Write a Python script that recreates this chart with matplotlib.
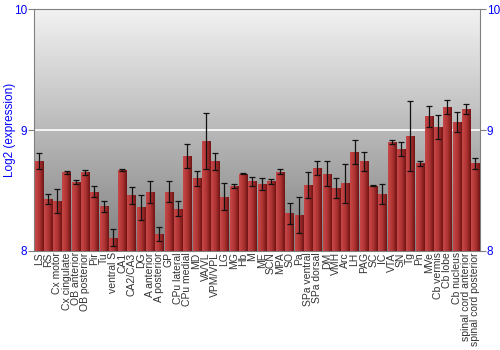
import numpy as np
import matplotlib.pyplot as plt
from matplotlib.colors import LinearSegmentedColormap

plt.rcParams['font.family'] = ['Liberation Sans', 'DejaVu Sans']

regions = ["LS", "RS", "Cx motor", "Cx cingulate", "OB anterior", "OB posterior",
           "Pir", "Tu", "ventral S", "CA1", "CA2/CA3", "DG", "A anterior",
           "A posterior", "GP", "CPu lateral", "CPu medial", "MD", "VA/VL",
           "VPM/VPL", "LG", "MG", "Hb", "M", "ME", "SCN", "MPA", "SO", "Pa",
           "SPa ventral", "SPa dorsal", "DM", "VMH", "Arc", "LH", "PAG", "SC",
           "IC", "VTA", "SN", "Tg", "Pn", "MVe", "Cb vermis", "Cb lobe",
           "Cb nucleus", "spinal cord anterior", "spinal cord posterior"]

expression = [8.74, 8.43, 8.41, 8.65, 8.57, 8.65, 8.49, 8.37, 8.11, 8.67,
              8.46, 8.36, 8.49, 8.14, 8.49, 8.35, 8.785, 8.60, 8.91, 8.74,
              8.45, 8.536, 8.64, 8.575, 8.555, 8.575, 8.657, 8.31, 8.30, 8.544,
              8.685, 8.64, 8.52, 8.56, 8.82, 8.74, 8.54, 8.47, 8.90, 8.84,
              8.95, 8.724, 9.113, 9.025, 9.19, 9.066, 9.174, 8.724]

errors = [0.066, 0.045, 0.10, 0.01, 0.02, 0.02, 0.045, 0.045, 0.07, 0.01,
          0.07, 0.10, 0.09, 0.06, 0.085, 0.06, 0.10, 0.06, 0.23, 0.073,
          0.11, 0.018, 0.005, 0.037, 0.05, 0.022, 0.024, 0.09, 0.15, 0.11,
          0.06, 0.107, 0.085, 0.16, 0.10, 0.08, 0.005, 0.085, 0.014, 0.058,
          0.29, 0.023, 0.088, 0.10, 0.06, 0.08, 0.04, 0.045]

fig = plt.figure(figsize=(5, 3.5), dpi=100)
ax = fig.add_axes([0.068, 0.283, 0.892, 0.691])

x = np.arange(len(regions))
ax.set_xlim(-0.5, len(regions) - 0.5)
ax.set_ylim(8, 10)

# background gradient, light at top
bg = np.linspace(0, 1, 256).reshape(-1, 1)
bg_cmap = LinearSegmentedColormap.from_list("bg", ["#f2f2f2", "#808080"])
ax.imshow(bg, cmap=bg_cmap, aspect='auto', origin='upper',
          extent=[-0.5, len(regions) - 0.5, 8, 10], zorder=0)

ax.axhline(9, color='white', lw=1.2, zorder=1)

bars = ax.bar(x, np.array(expression) - 8, bottom=8, width=0.88,
              color='#a83030', zorder=2)
bar_cmap = LinearSegmentedColormap.from_list("bar", ["#c84848", "#b03434", "#701414"])
grad = np.linspace(0, 1, 64).reshape(1, -1)
for b in bars:
    im = ax.imshow(grad, cmap=bar_cmap, aspect='auto',
                   extent=[b.get_x(), b.get_x() + b.get_width(), 8, 8 + b.get_height()],
                   zorder=3)
    im.set_clip_path(b)

ax.errorbar(x, expression, yerr=errors, fmt='none', ecolor='#111111',
            elinewidth=0.9, capsize=2.2, capthick=0.9, zorder=4)

ax.set_xticks(x)
ax.set_xticklabels(regions, rotation=90, fontsize=7.5, color='#333333')
ax.tick_params(axis='x', length=0, pad=1)

ax.set_yticks([8, 9, 10])
ax.tick_params(axis='y', colors='#808080', labelcolor='blue', labelsize=8.5,
               length=4, right=True, labelright=True, pad=1)
ax.set_ylabel("Log2 (expression)", color='blue', fontsize=8.5)
ax.yaxis.set_label_coords(-0.040, 0.5)

for s in ax.spines.values():
    s.set_color('#808080')

fig.savefig("out.png", dpi=100)
